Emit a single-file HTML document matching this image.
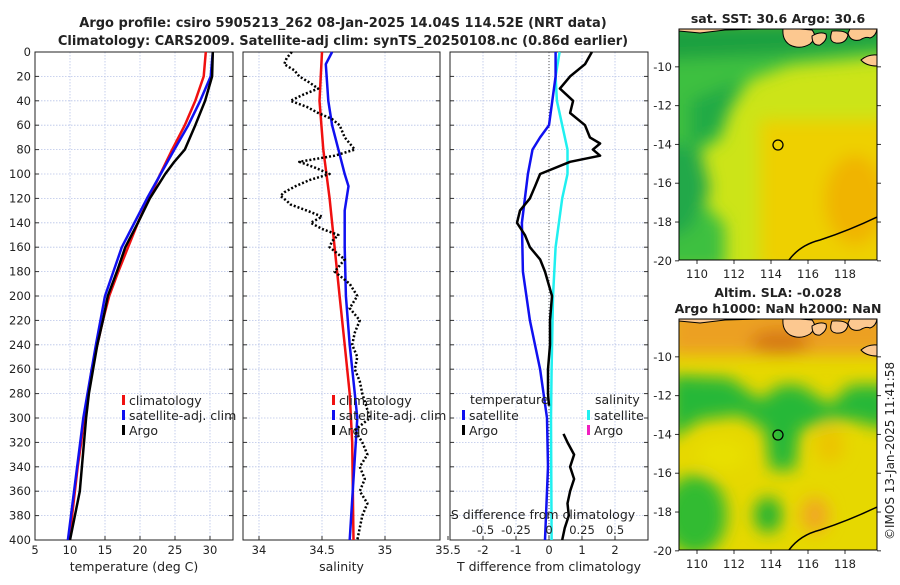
<!DOCTYPE html>
<html><head><meta charset="utf-8"><style>
body{margin:0;background:#fff;width:900px;height:580px;overflow:hidden}
svg text{font-family:"DejaVu Sans","Liberation Sans",sans-serif;fill:#222}
</style></head><body>
<svg id="c" width="900" height="580" xmlns="http://www.w3.org/2000/svg">
<defs>
<filter id="bl" filterUnits="userSpaceOnUse" x="600" y="0" width="320" height="600"><feGaussianBlur stdDeviation="8"/></filter>
<clipPath id="m1"><rect x="679" y="29" width="198" height="231"/></clipPath>
<clipPath id="m2"><rect x="679" y="319" width="198" height="231"/></clipPath>
<g id="land">
<path d="M679 29 L679 31 L700 33 L725 30 L760 29 Z" fill="#fcc890" stroke="#000"/>
<path d="M783 29 Q782 40 790 45 Q800 50 810 44 Q818 37 812 30 L800 29 Z" fill="#fcc890" stroke="#000"/>
<path d="M812 36 Q812 46 820 45 Q828 40 826 34 Q820 31 812 36Z" fill="#fcc890" stroke="#000"/>
<path d="M832 31 Q828 42 836 43 Q846 44 848 35 Q846 30 832 31Z" fill="#fcc890" stroke="#000"/>
<path d="M848 33 Q850 42 860 40 Q866 36 870 38 Q876 36 877 29 L850 29Z" fill="#fcc890" stroke="#000"/>
<path d="M861 60 Q868 54 877 55 L877 66 Q866 66 861 60Z" fill="#fcc890" stroke="#000"/>
</g>
</defs>
<text x="343" y="27" text-anchor="middle" font-size="13" font-weight="bold">Argo profile: csiro 5905213_262 08-Jan-2025 14.04S 114.52E (NRT data)</text>
<text x="343" y="45" text-anchor="middle" font-size="13" font-weight="bold">Climatology: CARS2009. Satellite-adj clim: synTS_20250108.nc (0.86d earlier)</text>
<g id="g"></g>
<!-- SST map -->
<g clip-path="url(#m1)">
<rect x="679" y="29" width="198" height="231" fill="#cce418"/>
<g filter="url(#bl)">
<rect x="760" y="120" width="130" height="150" fill="#eed000"/>
<ellipse cx="855" cy="200" rx="30" ry="45" fill="#f0b400"/>
<path d="M660 20 L900 20 L900 55 L790 65 L750 80 L730 110 L720 140 L700 150 L700 200 L725 225 L725 270 L660 270 Z" fill="#3cc040"/>
<path d="M660 140 L700 150 L710 190 L690 230 L660 240 Z" fill="#20a848"/>
<path d="M660 20 L900 20 L900 45 L780 55 L660 60 Z" fill="#1ca040"/>
<path d="M690 100 L740 80 L720 130 L690 150 Z" fill="#22aa44"/>
</g>
<use href="#land"/>
<path d="M789 260 Q800 245 820 240 Q850 230 877 217" fill="none" stroke="#000" stroke-width="1.5"/>
<circle cx="778" cy="145" r="5" fill="none" stroke="#000" stroke-width="1.3"/>
</g>
<rect x="679" y="29" width="198" height="231" fill="none" stroke="#000"/>
<text x="778" y="23" text-anchor="middle" font-size="12.5" font-weight="bold">sat. SST: 30.6 Argo: 30.6</text>
<!-- SLA map -->
<g clip-path="url(#m2)">
<rect x="679" y="319" width="198" height="231" fill="#e6d800"/>
<g filter="url(#bl)">
<rect x="670" y="305" width="220" height="50" fill="#eca020"/>
<ellipse cx="780" cy="342" rx="30" ry="12" fill="#d67818"/>
<path d="M670 375 L730 378 L760 400 L780 385 L800 385 L830 405 L850 385 L890 385 L890 430 L850 420 L830 420 L800 430 L795 470 L770 470 L765 430 L740 415 L700 420 L670 440 Z" fill="#28b838"/>
<ellipse cx="695" cy="515" rx="32" ry="40" fill="#30bb30"/>
<ellipse cx="768" cy="515" rx="14" ry="18" fill="#28b430"/>
<ellipse cx="815" cy="515" rx="14" ry="18" fill="#f0a820"/>
<ellipse cx="722" cy="455" rx="24" ry="14" fill="#e8e000"/>
<ellipse cx="830" cy="445" rx="14" ry="18" fill="#ecc400"/>
</g>
<g transform="translate(0,290)"><use href="#land"/></g>
<path d="M789 550 Q800 535 820 530 Q850 520 877 507" fill="none" stroke="#000" stroke-width="1.5"/>
<circle cx="778" cy="435" r="5" fill="none" stroke="#000" stroke-width="1.3"/>
</g>
<rect x="679" y="319" width="198" height="231" fill="none" stroke="#000"/>
<text x="778" y="297" text-anchor="middle" font-size="12.5" font-weight="bold">Altim. SLA: -0.028</text>
<text x="778" y="313" text-anchor="middle" font-size="12.5" font-weight="bold">Argo h1000: NaN h2000: NaN</text>
<text transform="translate(894,540) rotate(-90)" font-size="12">©IMOS 13-Jan-2025 11:41:58</text>
</svg>
<script>
const depthTicks=[0,20,40,60,80,100,120,140,160,180,200,220,240,260,280,300,320,340,360,380,400];
const tTicks=[5,10,15,20,25,30];
const sTicks=[34,34.5,35,35.5];
const dTTicks=[-2,-1,0,1,2];
const dSTicks=[-0.5,-0.25,0,0.25,0.5];
const lonTicks=[110,112,114,116,118];
const latTicks=[-10,-12,-14,-16,-18,-20];
const climD=[0,20,40,60,80,100,120,140,160,180,200,220,240,260,280,300,320,340,360,380,400];
const climT=[29.4,29.1,27.9,26.4,24.6,22.9,21.3,19.7,18.3,16.9,15.6,14.7,13.9,13.1,12.6,12.0,11.6,11.1,10.7,10.3,9.9];
const satD=[0,20,40,60,80,120,160,200,240,300,400];
const satT=[30.4,30.1,28.6,26.9,24.9,21.0,17.4,15.0,13.7,11.9,9.7];
const argoD=[0,20,40,60,80,90,100,120,140,160,180,200,220,240,260,280,300,320,340,360,380,400];
const argoT=[30.4,30.3,29.3,27.9,26.4,24.9,23.6,21.4,19.7,17.9,16.7,15.4,14.7,13.9,13.3,12.7,12.3,12.0,11.7,11.4,10.7,10.0];
const climSD=[0,40,80,120,160,200,240,280,320,400];
const climS=[34.5,34.48,34.51,34.56,34.6,34.64,34.68,34.72,34.74,34.75];
const satSD=[0,10,40,60,80,100,110,130,160,200,240,280,300,400];
const satS=[34.58,34.53,34.55,34.58,34.63,34.68,34.71,34.68,34.68,34.69,34.72,34.76,34.78,34.72];
const argoSD=[0,5,10,15,20,25,30,35,40,45,50,55,60,70,80,85,90,95,100,105,110,115,118,122,125,130,135,140,145,150,155,160,170,180,190,200,210,220,230,240,250,260,270,280,290,300,310,320,330,340,350,360,370,380,390,400];
const argoS=[34.26,34.22,34.2,34.28,34.32,34.4,34.47,34.35,34.25,34.38,34.47,34.58,34.64,34.68,34.76,34.6,34.32,34.45,34.56,34.4,34.29,34.2,34.17,34.22,34.25,34.38,34.5,34.41,34.5,34.63,34.58,34.56,34.68,34.6,34.72,34.78,34.72,34.8,34.76,34.74,34.78,34.76,34.8,34.82,34.85,34.88,34.76,34.82,34.86,34.8,34.84,34.8,34.86,34.82,34.8,34.78];
const dTSatD=[0,20,40,60,70,80,100,140,180,220,260,300,340,400];
const dTSat=[0.2,0.2,0.1,0,-0.27,-0.5,-0.64,-0.82,-0.79,-0.58,-0.27,-0.06,-0.03,-0.12];
const dTArgoD=[0,10,20,30,40,50,60,70,75,80,85,90,100,110,120,130,140,150,160,170,180,200,220,240,260,280,290];
const dTArgo=[1.3,1.09,0.64,0.33,0.73,0.64,1.09,1.24,1.55,1.33,1.55,0.64,-0.27,-0.42,-0.58,-0.88,-0.97,-0.73,-0.58,-0.27,-0.12,0.09,0.03,0.03,-0.03,-0.03,0];
const dSSatD=[0,20,40,60,80,100,120,160,200,260,300,400];
const dSSat=[0.08,0.05,0.06,0.1,0.14,0.14,0.1,0.05,0.03,0.02,0.015,0.02];
const dSArgoD=[313,320,330,340,350,360,370,380,390,400];
const dSArgo=[0.11,0.14,0.19,0.16,0.19,0.16,0.14,0.15,0.12,0.1];

const NS="http://www.w3.org/2000/svg";
const G=document.getElementById('g');
function el(t,a,p){const e=document.createElementNS(NS,t);for(const k in a)e.setAttribute(k,a[k]);(p||G).appendChild(e);return e;}
const yD=d=>52+d*1.22;
const xT=v=>35+(v-5)*7;
const xS=v=>259+(v-34)*126;
const xDT=v=>549+v*33;
const xDS=v=>549+v*132;
const panels=[{x0:35,x1:233,f:xT,ticks:tTicks,lab:'temperature (deg C)',n:'temperature'},
{x0:243,x1:440,f:xS,ticks:sTicks,lab:'salinity',n:'salinity'},
{x0:450,x1:648,f:xDT,ticks:dTTicks,lab:'T difference from climatology',n:'difference'}];
panels.forEach((p,i)=>{
 el('rect',{x:p.x0,y:52,width:p.x1-p.x0,height:488,fill:'#fff'});
 depthTicks.forEach(d=>{const l=el('line',{x1:p.x0,x2:p.x1,y1:yD(d),y2:yD(d),stroke:'#b8c4e8','stroke-width':0.8,'stroke-dasharray':'1.5,1.5'});
 
 
 el('line',{x1:p.x0,x2:p.x0+4,y1:yD(d),y2:yD(d),stroke:'#333'});
 el('line',{x1:p.x1,x2:p.x1-4,y1:yD(d),y2:yD(d),stroke:'#333'});
 if(i==0){const t=el('text',{x:p.x0-4,y:yD(d)+4,'text-anchor':'end','font-size':11.5});t.textContent=d;
 
 }});
 p.ticks.forEach(v=>{const x=p.f(v);
 if(x>p.x0+1&&x<p.x1-1)el('line',{x1:x,x2:x,y1:52,y2:540,stroke:'#b8c4e8','stroke-width':0.8,'stroke-dasharray':'1.5,1.5'});
 el('line',{x1:x,x2:x,y1:540,y2:536,stroke:'#333'});
 const t=el('text',{x:x,y:554,'text-anchor':'middle','font-size':11.5});t.textContent=v;
 
 });
 const r=el('rect',{x:p.x0,y:52,width:p.x1-p.x0,height:488,fill:'none',stroke:'#222'});
 
 
 const t=el('text',{x:(p.x0+p.x1)/2,y:571,'text-anchor':'middle','font-size':12.5});t.textContent=p.lab;
 
 
});
el('line',{x1:549,x2:549,y1:52,y2:540,stroke:'#555','stroke-dasharray':'1,2'});
function line(D,V,fx,col,w,name,dash){
 const pts=D.map((d,i)=>fx(V[i]).toFixed(1)+','+yD(d).toFixed(1)).join(' ');
 const a={points:pts,fill:'none',stroke:col,'stroke-width':w,'stroke-linejoin':'round'};
 if(dash)a['stroke-dasharray']=dash;
 const e=el('polyline',a);
 
 
}
line(climD,climT,xT,'#f01010',2.5,'climatology-temperature-line');
line(satD,satT,xT,'#1010f0',2.5,'satellite-temperature-line');
line(argoD,argoT,xT,'#000',2.5,'argo-temperature-line');
line(climSD,climS,xS,'#f01010',2.5,'climatology-salinity-line');
line(satSD,satS,xS,'#1010f0',2.5,'satellite-salinity-line');
line(argoSD,argoS,xS,'#000',2.5,'argo-salinity-line','2,2');
line(dSSatD,dSSat,xDS,'#20f0f0',2.5,'satellite-salinity-diff-line');
line(dTSatD,dTSat,xDT,'#1010f0',2.5,'satellite-temperature-diff-line');
line(dTArgoD,dTArgo,xDT,'#000',2.5,'argo-temperature-diff-line');
line(dSArgoD,dSArgo,xDS,'#000',2.5,'argo-salinity-diff-line');
dSTicks.forEach(v=>{const t=el('text',{x:xDS(v),y:534,'text-anchor':'middle','font-size':11.5});t.textContent=v;
 
 });
const st=el('text',{x:543,y:519,'text-anchor':'middle','font-size':12.5});st.textContent='S difference from climatology';


function leg(x,y,col,txt,name){el('rect',{x:x,y:y-9,width:3,height:10,fill:col});
 const t=el('text',{x:x+7,y:y+1,'font-size':12.5});t.textContent=txt;
 
 }
leg(122,404,'#f01010','climatology','legend-climatology');
leg(122,419,'#1010f0','satellite-adj. clim','legend-satellite');
leg(122,434,'#000','Argo','legend-argo');
leg(332,404,'#f01010','climatology','legend-climatology-s');
leg(332,419,'#1010f0','satellite-adj. clim','legend-satellite-s');
leg(332,434,'#000','Argo','legend-argo-s');
const lt=el('text',{x:470,y:404,'font-size':12.5});lt.textContent='temperature';


leg(462,419,'#1010f0','satellite','legend-t-satellite');
leg(462,434,'#000','Argo','legend-t-argo');
const ls=el('text',{x:595,y:404,'font-size':12.5});ls.textContent='salinity';


leg(587,419,'#20f0f0','satellite','legend-s-satellite');
leg(587,434,'#f020c0','Argo','legend-s-argo');
const xLon=v=>697+(v-110)*18.5;
const yLat=(v,top)=>top+(-8.05-v)*19.4;
[29,319].forEach((top,mi)=>{
 lonTicks.forEach(v=>{el('line',{x1:xLon(v),x2:xLon(v),y1:top+231,y2:top+235,stroke:'#333'});
 const t=el('text',{x:xLon(v),y:top+249,'text-anchor':'middle','font-size':11.5});t.textContent=v;
 
 });
 latTicks.forEach(v=>{const y=yLat(v,top);el('line',{x1:675,x2:679,y1:y,y2:y,stroke:'#333'});el('line',{x1:877,x2:881,y1:y,y2:y,stroke:'#333'});
 const t=el('text',{x:672,y:y+4,'text-anchor':'end','font-size':11.5});t.textContent=v;
 
 });
});
</script>
</body></html>
